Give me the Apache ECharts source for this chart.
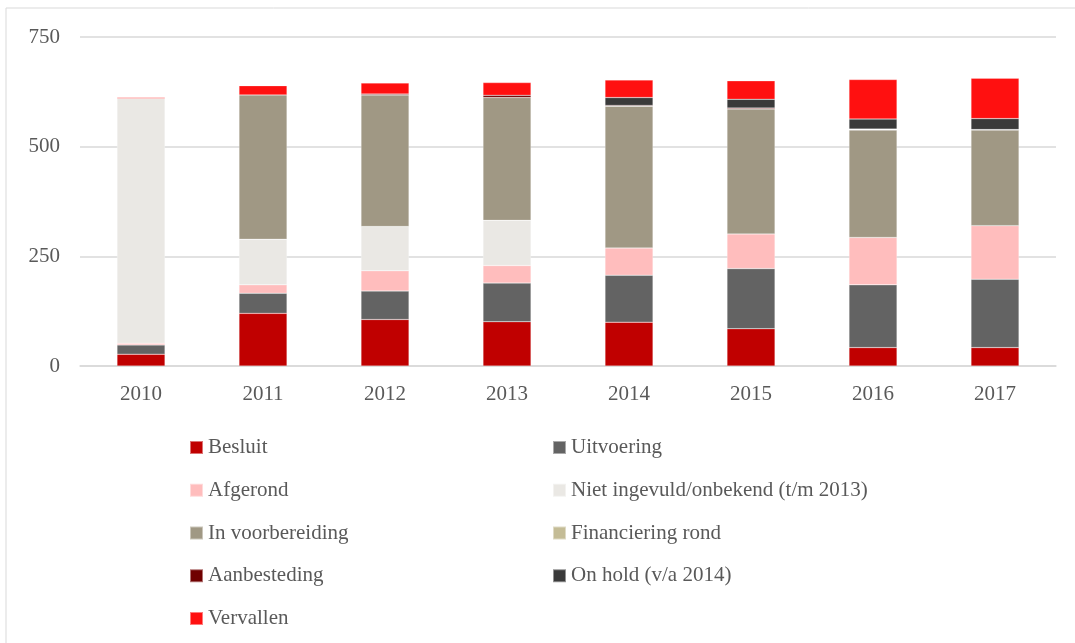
<!DOCTYPE html>
<html>
<head>
<meta charset="utf-8">
<script src="https://cdn.jsdelivr.net/npm/echarts@6/dist/echarts.min.js"></script>
<style>
  html, body { margin: 0; padding: 0; background: #fff; }
  #chart { width: 1075px; height: 643px; }
</style>
</head>
<body>
<div id="chart"></div>
<script>
const years = ["2010", "2011", "2012", "2013", "2014", "2015", "2016", "2017"];
const besluit = [27, 120, 106, 101, 100, 85, 42, 42];
const uitvoering = [21, 46, 65, 88, 107, 137, 143, 156];
const afgerond = [4, 19, 46, 40, 62, 79, 108, 122];
const nietIngevuld = [558, 104, 101, 103, null, null, null, null];
const inVoorbereiding = [null, 329, 300, 280, 323, 285, 245, 218];
const financieringRond = [null, null, null, null, null, null, 1, null];
const aanbesteding = [null, null, 2, 5, 2, 2, 1, 1];
const onHold = [null, null, null, null, 18, 20, 23, 25];
const vervallen = [2, 21, 25, 29, 40, 42, 90, 92];
const yTicks = { min: 0, max: 750, interval: 250 };

const font = "Liberation Serif";
const textColor = "#595959";

const seriesDefs = [
  { name: "Besluit", data: besluit, color: "#C00000" },
  { name: "Uitvoering", data: uitvoering, color: "#636363" },
  { name: "Afgerond", data: afgerond, color: "#FFBDBD" },
  { name: "Niet ingevuld/onbekend (t/m 2013)", data: nietIngevuld, color: "#EAE8E4" },
  { name: "In voorbereiding", data: inVoorbereiding, color: "#A09884" },
  { name: "Financiering rond", data: financieringRond, color: "#C4BC96" },
  { name: "Aanbesteding", data: aanbesteding, color: "#700000" },
  { name: "On hold (v/a 2014)", data: onHold, color: "#3A3A3A" },
  { name: "Vervallen", data: vervallen, color: "#FF1010" },
];

const legendBase = {
  orient: "vertical",
  icon: "rect",
  itemWidth: 13,
  itemHeight: 13,
  itemGap: 21.75,
  textStyle: { fontFamily: font, fontSize: 21, color: textColor },
  selectedMode: false,
};

const chart = echarts.init(document.getElementById("chart"));
chart.setOption({
  animation: false,
  backgroundColor: "#fff",
  graphic: [
    {
      type: "rect",
      shape: { x: 6, y: 8, width: 1080, height: 650 },
      style: { fill: "none", stroke: "#d9d9d9", lineWidth: 1 },
      silent: true,
    },
  ],
  legend: [
    Object.assign({}, legendBase, {
      left: 184,
      top: 432,
      data: ["Besluit", "Afgerond", "In voorbereiding", "Aanbesteding", "Vervallen"],
    }),
    Object.assign({}, legendBase, {
      left: 547,
      top: 432,
      data: ["Uitvoering", "Niet ingevuld/onbekend (t/m 2013)", "Financiering rond", "On hold (v/a 2014)"],
    }),
  ],
  grid: { left: 80, right: 19, top: 37, bottom: 277 },
  xAxis: {
    type: "category",
    data: years,
    axisLine: { lineStyle: { color: "#d9d9d9", width: 1.5 } },
    axisTick: { show: false },
    axisLabel: { fontFamily: font, fontSize: 21, color: textColor, margin: 18 },
  },
  yAxis: {
    type: "value",
    min: yTicks.min,
    max: yTicks.max,
    interval: yTicks.interval,
    axisLine: { show: false },
    axisTick: { show: false },
    axisLabel: { fontFamily: font, fontSize: 21, color: textColor, margin: 20 },
    splitLine: { lineStyle: { color: "#d9d9d9", width: 1.5 } },
  },
  series: seriesDefs.map((s) => ({
    name: s.name,
    type: "bar",
    stack: "total",
    barWidth: 48,
    data: s.data,
    itemStyle: { color: s.color, borderColor: "rgba(255,255,255,0.45)", borderWidth: 0.5 },
  })),
});
</script>
</body>
</html>
